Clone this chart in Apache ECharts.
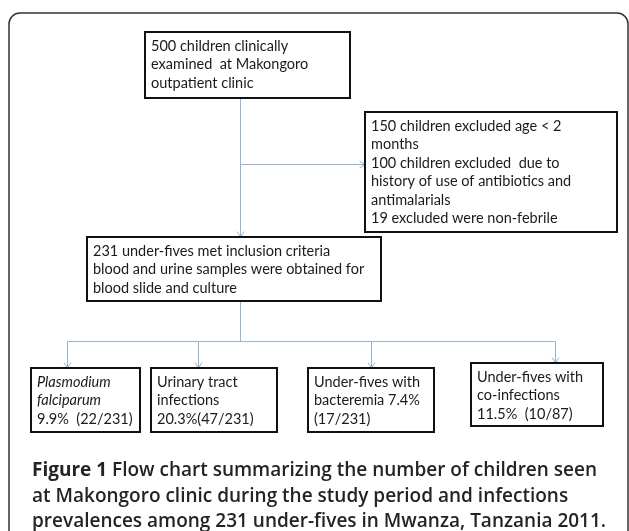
<!DOCTYPE html>
<html><head><meta charset="utf-8">
<script src="https://cdn.jsdelivr.net/npm/echarts@6/dist/echarts.min.js"></script>
<style>html,body{margin:0;padding:0;background:#fff}#c{width:629px;height:531px}</style>
</head><body><div id="c"></div>
<script>
// ---- data ----
const boxIds = ['examined', 'excluded', 'included', 'malaria', 'uti', 'bacteremia', 'coinfection'];
const boxLines = [
  ['500 children clinically', 'examined  at Makongoro', 'outpatient clinic'],
  ['150 children excluded age < 2', 'months', '100 children excluded  due to', 'history of use of antibiotics and', 'antimalarials', '19 excluded were non-febrile'],
  ['231 under-fives met inclusion criteria', 'blood and urine samples were obtained for', 'blood slide and culture'],
  ['Plasmodium', 'falciparum', '9.9%  (22/231)'],
  ['Urinary tract', 'infections', '20.3%(47/231)'],
  ['Under-fives with', 'bacteremia 7.4%', '(17/231)'],
  ['Under-fives with', 'co-infections', '11.5%  (10/87)']
];
const italicLines = { malaria: [0, 1] };
const edges = [
  ['examined', 'included'],
  ['examined', 'excluded'],
  ['included', 'malaria'],
  ['included', 'uti'],
  ['included', 'bacteremia'],
  ['included', 'coinfection']
];
const captionBold = 'Figure 1';
const captionLines = [
  'Flow chart summarizing the number of children seen',
  'at Makongoro clinic during the study period and infections',
  'prevalences among 231 under-fives in Mwanza, Tanzania 2011.'
];

// ---- layout (canvas units) ----
const layout = {
  boxes: {
    examined: [145, 32, 350, 98],
    excluded: [365, 112, 617, 232],
    included: [87, 237, 381, 301],
    malaria: [31, 368, 140, 432],
    uti: [151, 368, 277, 432],
    bacteremia: [308, 368, 434, 432],
    coinfection: [471, 363, 603, 426]
  },
  trunkX: 240.5,
  sideY: 164.5,
  branchY: 341.5,
  dropX: { malaria: 67.5, uti: 198.5, bacteremia: 371.5, coinfection: 555.5 }
};
const LINE = '#92b4da';
const BOX_FONT = 'Lato';
const BOX_SIZE = 14.5;

function edgePoints(e) {
  const [from, to] = e;
  const a = layout.boxes[from], b = layout.boxes[to];
  if (from === 'examined' && to === 'included') return [[layout.trunkX, a[3]], [layout.trunkX, b[1]]];
  if (from === 'examined' && to === 'excluded') return [[layout.trunkX, layout.sideY], [b[0], layout.sideY]];
  const dx = layout.dropX[to];
  return [[layout.trunkX, a[3]], [layout.trunkX, layout.branchY], [dx, layout.branchY], [dx, b[1]]];
}

function boxText(id, lines) {
  const it = italicLines[id] || [];
  return lines.map((l, k) => it.indexOf(k) >= 0 ? '{i|' + l + '}' : l).join('\n');
}

const chart = echarts.init(document.getElementById('c'), null, { renderer: 'canvas' });

chart.setOption({
  animation: false,
  grid: { left: 0, right: 0, top: 0, bottom: 0 },
  xAxis: { type: 'value', min: 0, max: 629, show: false },
  yAxis: { type: 'value', min: 0, max: 531, inverse: true, show: false },
  title: {
    left: 27, top: 453,
    text: '{b|' + captionBold + '} ' + captionLines[0] + '\n' + captionLines[1] + '\n' + captionLines[2],
    textStyle: {
      fontFamily: 'Open Sans', fontSize: 19, fontWeight: 600, color: '#242424', lineHeight: 25.5,
      rich: { b: { fontFamily: 'Open Sans', fontSize: 19, fontWeight: 'bold', color: '#242424', lineHeight: 25.5 } }
    }
  },
  graphic: [{
    type: 'rect', silent: true,
    shape: { x: 9, y: 13, width: 619, height: 560, r: [11, 11, 0, 0] },
    style: { fill: null, stroke: '#333', lineWidth: 1.5 }
  }],
  series: [
    {
      type: 'custom', silent: true,
      data: edges.map((e, i) => [i]),
      encode: { x: -1, y: -1 },
      renderItem: function (params, api) {
        const pts = edgePoints(edges[params.dataIndex]).map(p => api.coord(p));
        const n = pts.length;
        const end = pts[n - 1], prev = pts[n - 2];
        const ang = Math.atan2(end[1] - prev[1], end[0] - prev[0]);
        const L = 5.5, W = 3.5;
        const bx = end[0] - L * Math.cos(ang), by = end[1] - L * Math.sin(ang);
        const nx = -Math.sin(ang) * W, ny = Math.cos(ang) * W;
        return {
          type: 'group', children: [
            { type: 'polyline', shape: { points: pts }, style: { stroke: LINE, lineWidth: 1, fill: null } },
            { type: 'polyline', shape: { points: [[bx + nx, by + ny], end, [bx - nx, by - ny]] }, style: { stroke: LINE, lineWidth: 1, fill: null } }
          ]
        };
      }
    },
    {
      type: 'custom', silent: true,
      data: boxIds.map((id, i) => [i]),
      encode: { x: -1, y: -1 },
      renderItem: function (params, api) {
        const id = boxIds[params.dataIndex];
        const r = layout.boxes[id];
        const p0 = api.coord([r[0], r[1]]), p1 = api.coord([r[2], r[3]]);
        const x = Math.min(p0[0], p1[0]), y = Math.min(p0[1], p1[1]);
        const w = Math.abs(p1[0] - p0[0]), h = Math.abs(p1[1] - p0[1]);
        return {
          type: 'group', children: [
            { type: 'rect', shape: { x: x, y: y, width: w, height: h }, style: { fill: '#fff', stroke: '#111', lineWidth: 2 } },
            {
              type: 'text',
              style: {
                x: x + 6, y: y + 5, text: boxText(id, boxLines[params.dataIndex]),
                fontFamily: BOX_FONT, fontSize: BOX_SIZE, fill: '#1a1a1a', lineHeight: 18.5,
                align: 'left', verticalAlign: 'top',
                rich: { i: { fontFamily: BOX_FONT, fontSize: BOX_SIZE, fontStyle: 'italic', fill: '#1a1a1a', lineHeight: 18.5 } }
              }
            }
          ]
        };
      }
    }
  ]
});
</script></body></html>
